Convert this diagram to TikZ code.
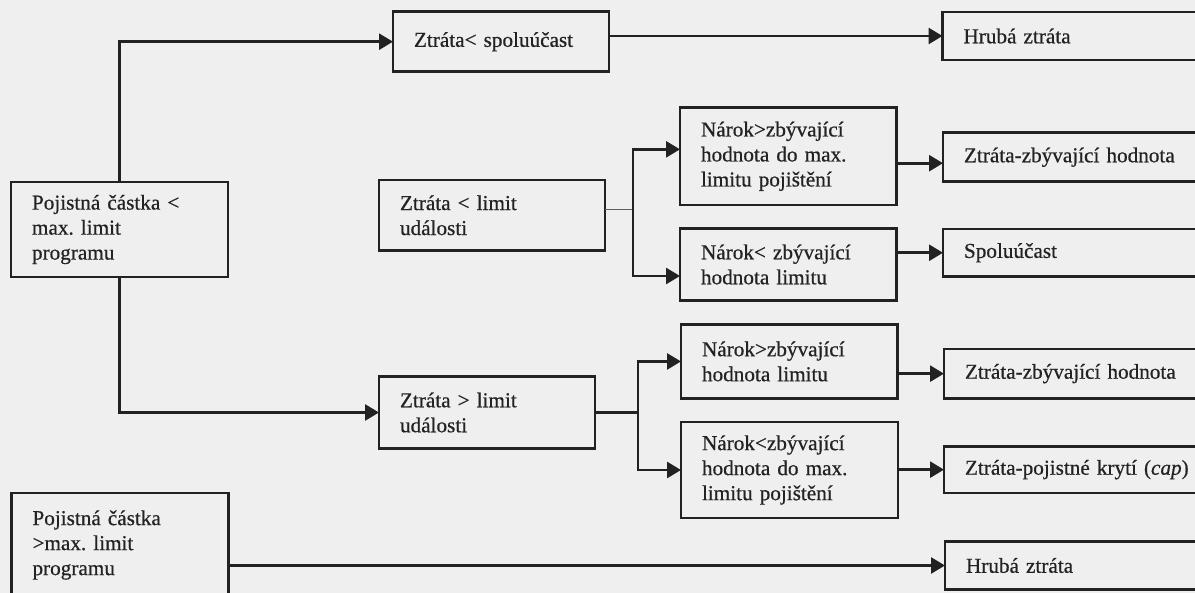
\documentclass[tikz,border=0pt]{standalone}
\usepackage{fontspec}
\setmainfont{Liberation Serif}[FakeBold=0.6]
\usetikzlibrary{arrows.meta}
\definecolor{bg}{RGB}{239,239,239}
\definecolor{ink}{RGB}{34,34,34}
\definecolor{txt}{RGB}{35,35,35}
\definecolor{faint}{RGB}{95,95,95}
\frenchspacing
\begin{document}
\begin{tikzpicture}[x=1pt,y=-1pt,
  box/.style={draw=ink, line width=2.7pt, rectangle, anchor=north west, outer sep=0pt,
    inner xsep=21pt, inner ysep=0pt, align=left, text=txt,
    font=\fontsize{21.2}{25}\selectfont\frenchspacing},
  conn/.style={draw=ink, line width=2.7pt},
  thinconn/.style={draw=faint, line width=1.4pt},
  arrow/.style={draw=ink, line width=2.7pt, -{Triangle[length=14pt,width=16pt]}}]
\fill[bg] (0,0) rectangle (1195,593);
\useasboundingbox (0,0) rectangle (1195,593);
\clip (0,0) rectangle (1195,593);

% left column
\node[box, minimum width=217pt, minimum height=95pt, text width=175pt] (A) at (11,182)
  {Pojistná částka <\\max. limit\\programu};
\node[box, minimum width=217pt, minimum height=104pt, text width=175pt] (B) at (11.5,493)
  {Pojistná částka\\>max. limit\\programu};

% middle column
\node[box, minimum width=216pt, minimum height=60pt, text width=174pt] (C) at (393,11.7)
  {Ztráta< spoluúčast};
\node[box, minimum width=226pt, minimum height=70.5pt, text width=184pt] (D) at (379,180)
  {Ztráta < limit\\události};
\node[box, minimum width=216pt, minimum height=72pt, text width=174pt] (E) at (379,376.5)
  {Ztráta > limit\\události};

% claim column
\node[box, minimum width=216.5pt, minimum height=97.3pt, text width=174.5pt] (F) at (680,107.7)
  {Nárok>zbývající\\hodnota do max.\\limitu pojištění};
\node[box, minimum width=216.5pt, minimum height=72pt, text width=174.5pt] (G) at (680,228.5)
  {Nárok< zbývající\\hodnota limitu};
\node[box, minimum width=216.5pt, minimum height=73.5pt, text width=174.5pt] (H) at (681,324.7)
  {Nárok>zbývající\\hodnota limitu};
\node[box, minimum width=217pt, minimum height=96pt, text width=175pt] (I) at (681,422)
  {Nárok<zbývající\\hodnota do max.\\limitu pojištění};

% right column
\node[box, minimum width=300pt, minimum height=48pt, text width=258pt] (J) at (942.5,12)
  {Hrubá ztráta};
\node[box, minimum width=300pt, minimum height=49pt, text width=258pt] (K) at (943,132.7)
  {Ztráta-zbývající hodnota};
\node[box, minimum width=300pt, minimum height=47.5pt, text width=258pt] (L) at (943,229)
  {Spoluúčast};
\node[box, minimum width=300pt, minimum height=49.3pt, text width=258pt] (M) at (944,349)
  {Ztráta-zbývající hodnota};
\node[box, minimum width=300pt, minimum height=46.7pt, text width=258pt] (N) at (944,446.3)
  {Ztráta-pojistné krytí (\textit{cap})};
\node[box, minimum width=300pt, minimum height=48.4pt, text width=258pt] (O) at (945,541.3)
  {Hrubá ztráta};

% junctions
\coordinate (jd) at (633,209.3);
\coordinate (je) at (638,412.5);

% connectors
\draw[arrow] (A.north) |- (C.west);
\draw[arrow] (A.south) |- (E.west);
\draw[arrow] (C.east |- J.west) -- (J.west);

\draw[thinconn] (D.east |- jd) -- (jd);
\draw[arrow] (jd) |- ([yshift=7pt]F.west);
\draw[arrow] (jd) |- ([yshift=-11.5pt]G.west);
\draw[arrow] ([yshift=-6pt]K.west -| F.east) -- ([yshift=-6pt]K.west);
\draw[arrow] (G.east |- L.west) -- (L.west);

\draw[conn] (E.east |- je) -- (je);
\draw[arrow] (je) |- (H.west);
\draw[arrow] (je) |- (I.west);
\draw[arrow] (H.east |- M.west) -- (M.west);
\draw[arrow] (I.east |- N.west) -- (N.west);

\draw[arrow] (B.east |- O.west) -- (O.west);
\end{tikzpicture}
\end{document}
